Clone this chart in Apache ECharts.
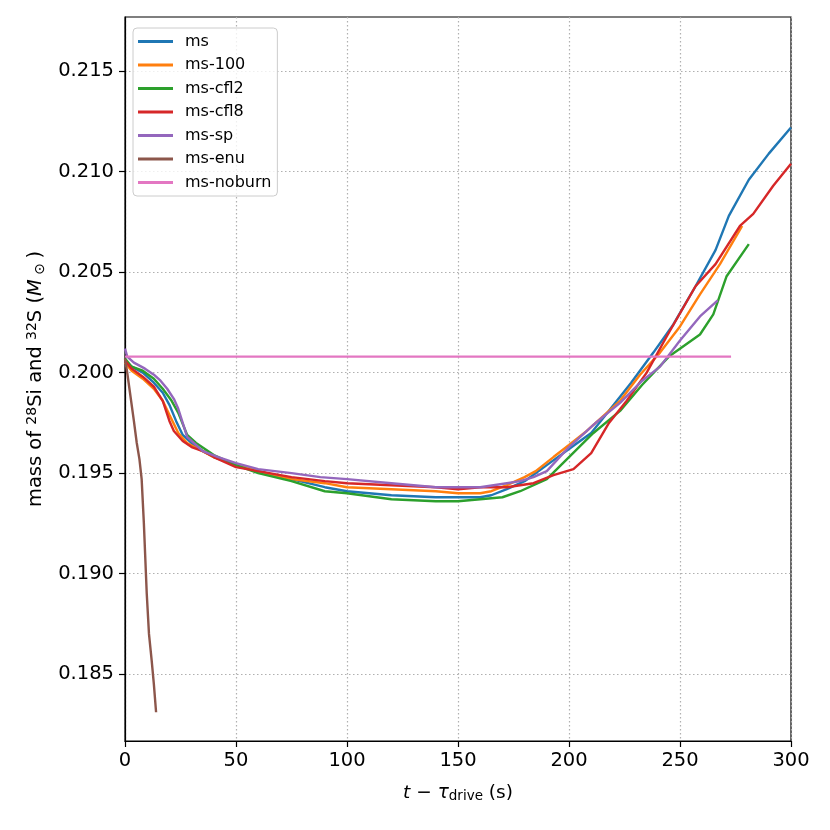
<!DOCTYPE html>
<html><head><meta charset="utf-8">
<script src="https://cdn.jsdelivr.net/npm/echarts@6/dist/echarts.min.js"></script>
<style>html,body{margin:0;padding:0;background:#fff}#c{width:830px;height:830px}</style>
</head><body><div id="c"></div>
<script>
const seriesNames = ['ms', 'ms-100', 'ms-cfl2', 'ms-cfl8', 'ms-sp', 'ms-enu', 'ms-noburn'];
const seriesColors = ['#1f77b4', '#ff7f0e', '#2ca02c', '#d62728', '#9467bd', '#8c564b', '#e377c2'];

const msData = [[0,0.2006],[3,0.2003],[8,0.2000],[13,0.1995],[17,0.1990],[20,0.1984],[23,0.1976],[26,0.1969],[30,0.1965],[35,0.1961],[40,0.1958],[50,0.1954],[60,0.1951],[75,0.1947],[90,0.1943],[100,0.1941],[120,0.1939],[140,0.1938],[150,0.1938],[160,0.1938],[165,0.1939],[172,0.1942],[180,0.1946],[190,0.1954],[200,0.1962],[210,0.1970],[218,0.1981],[228,0.1995],[238,0.2010],[247,0.2024],[257,0.2043],[266,0.2061],[272,0.2078],[281,0.2096],[290,0.2109],[300,0.2122]];
const ms100Data = [[0,0.2005],[3,0.2001],[8,0.1997],[13,0.1992],[17,0.1986],[20,0.1979],[24,0.1970],[28,0.1965],[33,0.1962],[40,0.1958],[50,0.1954],[60,0.1951],[75,0.1947],[90,0.1945],[100,0.1943],[120,0.1942],[140,0.1941],[150,0.1940],[160,0.1940],[165,0.1941],[172,0.1944],[180,0.1948],[185,0.1951],[193,0.1958],[200,0.1964],[208,0.1971],[215,0.1978],[223,0.1986],[232,0.1999],[241,0.2010],[250,0.2023],[259,0.2039],[268,0.2054],[278,0.2073]];
const mscfl2Data = [[0,0.2007],[3,0.2003],[8,0.2001],[13,0.1997],[17,0.1992],[21,0.1986],[24,0.1980],[28,0.1969],[32,0.1965],[40,0.1959],[50,0.1954],[60,0.1950],[75,0.1946],[90,0.1941],[100,0.1940],[120,0.1937],[140,0.1936],[150,0.1936],[160,0.1937],[170,0.1938],[178,0.1941],[190,0.1947],[200,0.1958],[211,0.1970],[223,0.1981],[233,0.1994],[245,0.2008],[259,0.2019],[265,0.2029],[271,0.2048],[281,0.2064]];
const mscfl8Data = [[0,0.2006],[3,0.2002],[8,0.1998],[13,0.1993],[17,0.1986],[20,0.1976],[22,0.1971],[26,0.1966],[30,0.1963],[35,0.1961],[40,0.1958],[50,0.1953],[60,0.1951],[75,0.1948],[90,0.1946],[100,0.1945],[120,0.1944],[140,0.1943],[150,0.1942],[160,0.1943],[172,0.1943],[184,0.1945],[193,0.1949],[202,0.1952],[210,0.1960],[218,0.1975],[226,0.1986],[235,0.2000],[244,0.2018],[257,0.2043],[266,0.2054],[277,0.2073],[283,0.2079],[292,0.2093],[300,0.2104]];
const msspData = [[0,0.2012],[1,0.2008],[4,0.2005],[9,0.2002],[13,0.1999],[16,0.1996],[19,0.1992],[22,0.1987],[24,0.1982],[26,0.1975],[28,0.1968],[32,0.1964],[35,0.1961],[42,0.1958],[50,0.1955],[60,0.1952],[75,0.1950],[88,0.1948],[100,0.1947],[120,0.1945],[140,0.1943],[150,0.1943],[160,0.1943],[172,0.1945],[178,0.1946],[184,0.1948],[190,0.1951],[200,0.1963],[212,0.1975],[223,0.1985],[233,0.1996],[241,0.2003],[250,0.2016],[259,0.2028],[267,0.2036]];
const msenuData = [[0,0.2007],[1,0.2000],[2,0.1992],[4,0.1976],[5.3,0.1965],[6.5,0.1957],[7.5,0.1947],[8.5,0.1925],[9.8,0.1890],[10.8,0.1870],[12,0.1857],[13,0.1845],[14,0.1831]];
const msnoburnData = [[0,0.2008],[273,0.2008]];

const allData = [msData, ms100Data, mscfl2Data, mscfl8Data, msspData, msenuData, msnoburnData];
const yTicks = [0.185, 0.190, 0.195, 0.200, 0.205, 0.210, 0.215];

const chart = echarts.init(document.getElementById('c'), null, {renderer: 'canvas'});
const FONT = 'DejaVu Sans';
const gridLine = {show: true, lineStyle: {color: '#b0b0b0', width: 1.2, type: [1.5, 2.5]}};

chart.setOption({
  animation: false,
  backgroundColor: '#fff',
  textStyle: {fontFamily: FONT},
  grid: {left: 125, right: 39, top: 17, bottom: 89, show: true, borderColor: '#000', borderWidth: 1.2, containLabel: false},
  legend: {
    orient: 'vertical', left: 133, top: 28,
    data: seriesNames,
    icon: 'rect', itemWidth: 35, itemHeight: 3, itemGap: 7.5,
    padding: [5.5, 6, 5.5, 5],
    backgroundColor: 'rgba(255,255,255,0.8)',
    borderColor: '#cccccc', borderWidth: 1, borderRadius: 4,
    textStyle: {fontFamily: FONT, fontSize: 16, color: '#000', lineHeight: 16, padding: [0, 0, 0, 7]}
  },
  xAxis: {
    type: 'value', min: 0, max: 300, interval: 50,
    name: '{i|t} − {i|τ}{sub|drive} (s)',
    nameLocation: 'middle', nameGap: 43,
    nameTextStyle: {fontFamily: FONT, fontSize: 18.5, color: '#000',
      rich: {i: {fontStyle: 'italic', fontSize: 18.5, fontFamily: FONT}, sub: {fontSize: 13.5, fontFamily: FONT, verticalAlign: 'bottom', lineHeight: 14, padding: [8, 0, 0, 0]}}},
    axisLine: {show: true, lineStyle: {color: '#000', width: 1.2}},
    axisTick: {show: true, inside: false, length: 6, lineStyle: {color: '#000', width: 1.2}},
    axisLabel: {fontFamily: FONT, fontSize: 19.5, color: '#000', margin: 10},
    splitLine: gridLine
  },
  yAxis: {
    type: 'value', min: 0.18167, max: 0.2177,
    name: 'mass of {sup|28}Si and {sup|32}S ({i|M}{sub| ⊙ })',
    nameLocation: 'middle', nameGap: 78,
    nameTextStyle: {fontFamily: FONT, fontSize: 19.5, color: '#000',
      rich: {sup: {fontSize: 14, fontFamily: FONT, verticalAlign: 'top', padding: [0, 0, 8, 0]}, i: {fontStyle: 'italic', fontSize: 19.5, fontFamily: FONT}, sub: {fontSize: 14, fontFamily: FONT, padding: [8, 0, 0, 0]}}},
    axisLine: {show: true, lineStyle: {color: '#000', width: 1.2}},
    axisTick: {show: true, inside: false, length: 6, lineStyle: {color: '#000', width: 1.2}, customValues: yTicks},
    axisLabel: {fontFamily: FONT, fontSize: 19.5, color: '#000', margin: 11, customValues: yTicks, formatter: v => v.toFixed(3)},
    splitLine: gridLine
  },
  series: seriesNames.map((n, i) => ({
    name: n, type: 'line', data: allData[i], showSymbol: false, symbol: 'none',
    smooth: false, clip: true,
    lineStyle: {color: seriesColors[i], width: 2.4},
    itemStyle: {color: seriesColors[i]},
    z: 2 + i
  }))
});
</script>
</body></html>
